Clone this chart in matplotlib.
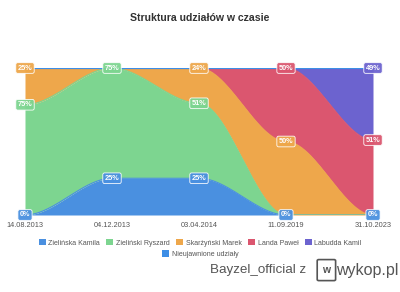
import numpy as np
import matplotlib.pyplot as plt
from matplotlib.patches import Patch, FancyBboxPatch

plt.rcParams['font.family'] = ['Liberation Sans', 'DejaVu Sans']

# data (percent of shares at each date)
dates = ['14.08.2013', '04.12.2013', '03.04.2014', '11.09.2019', '31.10.2023']
names = ['Zielińska Kamila', 'Zieliński Ryszard', 'Skarżyński Marek',
         'Landa Paweł', 'Labudda Kamil', 'Nieujawnione udziały']
kamila = [0, 25, 25, 0, 0]
ryszard = [75, 75, 51, 0, 0]
marek = [25, 0, 24, 50, 0]
landa = [0, 0, 0, 50, 51]
labudda = [0, 0, 0, 0, 49]
hidden = [0, 0, 0, 0, 0]
colors = ['#4a90e0', '#7dd590', '#eea74b', '#db566f', '#6c63cf', '#3d8ee6']

series = [kamila, ryszard, marek, landa, labudda, hidden]


def smooth(vals, n=60):
    # ease each segment so the curve is flat at every point
    xs, ys = [], []
    for i in range(len(vals) - 1):
        t = np.linspace(0, 1, n)
        s = 3 * t**2 - 2 * t**3
        xs.append(i + t)
        ys.append(vals[i] + (vals[i + 1] - vals[i]) * s)
    return np.concatenate(xs), np.concatenate(ys)


fig = plt.figure(figsize=(4, 2.92), dpi=100)
ax = fig.add_axes([0.0625, 0.2637, 0.87, 0.5034])

cum = np.zeros(len(dates))
tops = []
for vals, c in zip(series, colors):
    bottom = cum.copy()
    cum = cum + np.array(vals)
    tops.append(cum.copy())
    xb, yb = smooth(bottom)
    xt, yt = smooth(cum)
    ax.fill_between(xt, yb, yt, color=c, lw=0)
    ax.plot(xt, yt, color=c, lw=0.8)

# value labels at the top of each band
for k, (vals, c) in enumerate(zip(series, colors)):
    for i, v in enumerate(vals):
        if v > 0 or k == 0:
            ax.text(i, tops[k][i], f'{v}%', ha='center', va='center',
                    fontsize=5.3, color='white', fontweight='bold', clip_on=False,
                    bbox=dict(boxstyle='round,pad=0.25', fc=c, ec='#ffffff', lw=0.6, alpha=0.95),
                    zorder=5)

ax.set_xlim(0, len(dates) - 1)
ax.set_ylim(0, 100)
ax.set_xticks(range(len(dates)))
ax.set_xticklabels(dates, fontsize=5.3, color='#555555')
ax.tick_params(axis='x', length=0, pad=5)
ax.set_yticks([])
for s in ax.spines.values():
    s.set_visible(False)

fig.text(0.5, 0.938, 'Struktura udziałów w czasie', ha='center', va='center',
         fontsize=7.6, fontweight='bold', color='#333333')

handles = [Patch(fc=c, ec='none') for c in colors]
fig.legend(handles[:5], names[:5], loc='center', bbox_to_anchor=(0.5, 0.168),
           ncol=5, frameon=False, fontsize=5.0, handlelength=1.0, handleheight=1.0,
           handletextpad=0.4, columnspacing=0.9, labelcolor='#555555')
fig.legend(handles[5:], names[5:], loc='center', bbox_to_anchor=(0.5, 0.130),
           ncol=1, frameon=False, fontsize=5.0, handlelength=1.0, handleheight=1.0,
           handletextpad=0.4, labelcolor='#555555')

# watermark
fig.text(0.765, 0.075, 'Bayzel_official z', ha='right', va='center',
         fontsize=9.6, color='#555555')
fig.patches.append(FancyBboxPatch((0.797, 0.043), 0.038, 0.064, boxstyle='round,pad=0.004',
                                  transform=fig.transFigure, fc='none', ec='#555555', lw=1.2))
fig.text(0.816, 0.075, 'w', ha='center', va='center', fontsize=7.5, color='#555555',
         fontweight='bold')
fig.text(0.84, 0.075, 'wykop.pl', ha='left', va='center', fontsize=11.5, color='#555555')

fig.savefig('out.png', dpi=100, facecolor='white')
